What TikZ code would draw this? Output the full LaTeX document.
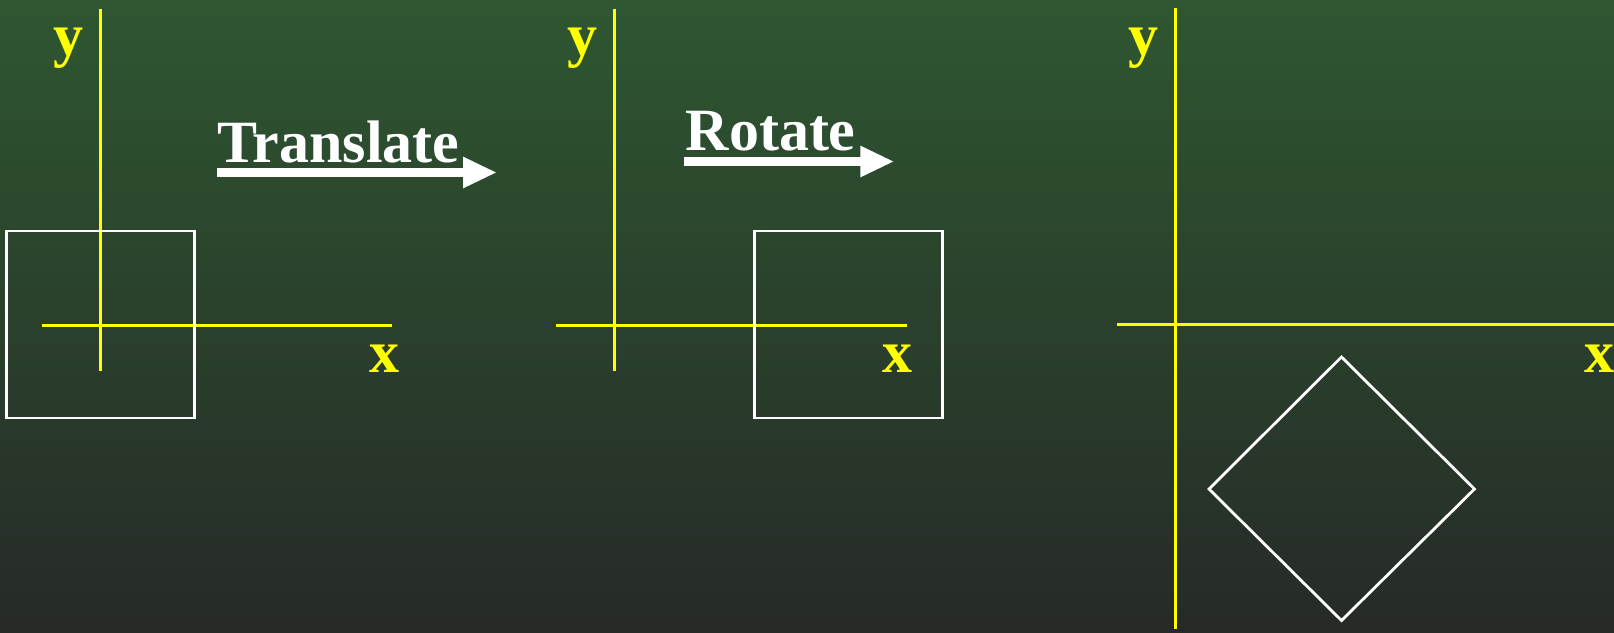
\documentclass[tikz,border=0pt]{standalone}
\usepackage{fontspec}
\setmainfont{Liberation Serif}
\usetikzlibrary{arrows.meta}
\definecolor{bgtop}{RGB}{46,87,49}
\definecolor{bgbot}{RGB}{38,42,39}
\definecolor{axisyellow}{RGB}{255,255,0}
\tikzset{
  axisline/.style={draw=axisyellow, line width=3pt},
  boxline/.style={draw=white, line width=2.8pt},
  axlabel/.style={text=axisyellow, font=\fontsize{60}{60}\selectfont\bfseries, inner sep=0pt, anchor=base},
  oplabel/.style={text=white, font=\fontsize{60}{60}\selectfont\bfseries, inner sep=0pt, anchor=base west},
  bigarrow/.style={draw=white, line width=9pt, -{Triangle[length=34pt,width=29pt]}},
}
\begin{document}
\begin{tikzpicture}[x=1pt,y=-1pt]
\useasboundingbox (0,0) rectangle (1614,632);
\shade[top color=bgtop, bottom color=bgbot] (0,0) rectangle (1614,632);

% ---- panel 1 ----
\coordinate (a1t) at (100.5,9.3);
\coordinate (a1b) at (100.5,371);
\coordinate (a1l) at (42.3,325);
\coordinate (a1r) at (392.3,325);
\draw[axisline] (a1t) -- (a1b);
\draw[axisline] (a1l) -- (a1r);
\draw[boxline] (6.8,231) rectangle (194.3,418);
\node[axlabel] (y1) at (68.5,55) {y};
\node[axlabel] (x1) at (384,372) {x};

% translate arrow
\node[oplabel] (tr) at (217,162) {Translate};
\coordinate (tra) at (217,172.5);
\coordinate (trb) at (497,172.5);
\draw[bigarrow] (tra) -- (trb);

% ---- panel 2 ----
\coordinate (a2t) at (614.3,9.3);
\coordinate (a2b) at (614.3,371);
\coordinate (a2l) at (556,325);
\coordinate (a2r) at (906.7,325);
\draw[axisline] (a2t) -- (a2b);
\draw[axisline] (a2l) -- (a2r);
\draw[boxline] (754.5,231) rectangle (942.3,418);
\node[axlabel] (y2) at (582,55) {y};
\node[axlabel] (x2) at (897,372) {x};

% rotate arrow
\node[oplabel] (ro) at (685.5,150) {Rotate};
\coordinate (roa) at (684.3,161.5);
\coordinate (rob) at (894.3,161.5);
\draw[bigarrow, line width=8.5pt] (roa) -- (rob);

% ---- panel 3 ----
\coordinate (a3t) at (1175.3,8);
\coordinate (a3b) at (1175.3,629);
\coordinate (a3l) at (1116.8,324.5);
\coordinate (a3r) at (1614,324.5);
\draw[axisline] (a3t) -- (a3b);
\draw[axisline] (a3l) -- (a3r);
\draw[boxline, line join=miter] (1341.5,357) -- (1474.5,489) -- (1341.5,620.5) -- (1209,489) -- cycle;
\node[axlabel] (y3) at (1143.5,55) {y};
\node[axlabel] (x3) at (1599,372) {x};
\end{tikzpicture}
\end{document}
